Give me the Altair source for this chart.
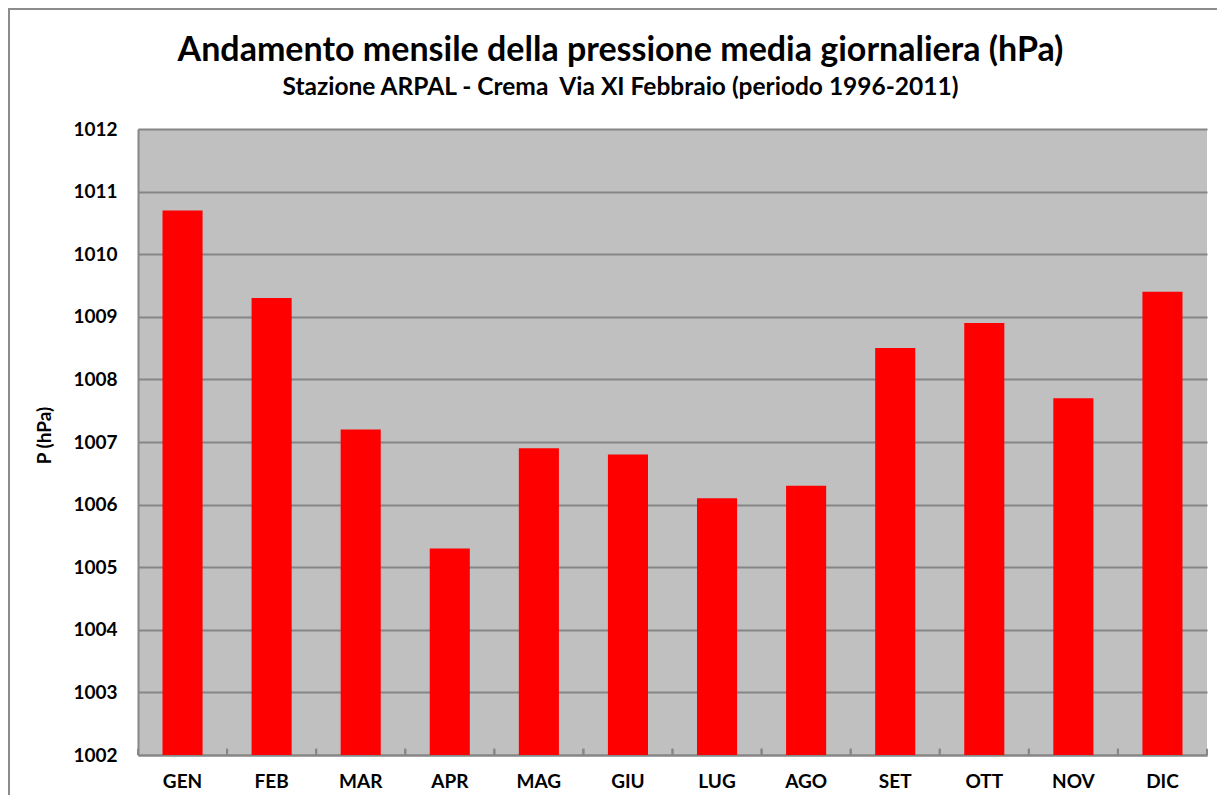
import altair as alt
import pandas as pd

months = ["GEN", "FEB", "MAR", "APR", "MAG", "GIU", "LUG", "AGO", "SET", "OTT", "NOV", "DIC"]
pressure = [1010.7, 1009.3, 1007.2, 1005.3, 1006.9, 1006.8, 1006.1, 1006.3, 1008.5, 1008.9, 1007.7, 1009.4]
y_ticks = [1002, 1003, 1004, 1005, 1006, 1007, 1008, 1009, 1010, 1011, 1012]

title_text = "Andamento mensile della pressione media giornaliera (hPa)"
subtitle_text = "Stazione ARPAL - Crema \u00a0Via XI Febbraio (periodo 1996-2011)"
y_title = "P (hPa)"

df = pd.DataFrame({"mese": months, "p": pressure})

FONT = "Lato"
W, H = 1069, 626
GRAY = "#868686"

xscale = alt.Scale(domain=months, paddingInner=0, paddingOuter=0)
yscale = alt.Scale(domain=[y_ticks[0], y_ticks[-1]], nice=False, zero=False)

border = alt.Chart(pd.DataFrame({"a": [0]})).mark_rect(
    filled=False, fillOpacity=0, stroke="#8c8c8c", strokeWidth=2, clip=False
).encode(
    x=alt.value(-129), x2=alt.value(1300), y=alt.value(-120), y2=alt.value(900)
)

bars = alt.Chart(df).mark_bar(
    color="#FF0000", width=alt.RelativeBandSize(0.45)
).encode(
    x=alt.X("mese:N", sort=months, scale=xscale,
            axis=alt.Axis(orient="bottom", title=None, labelAngle=0, ticks=False,
                          domain=True, domainColor=GRAY, domainWidth=2,
                          labelFont=FONT, labelFontSize=19, labelFontWeight="bold",
                          labelColor="black", labelPadding=17, grid=False)),
    y=alt.Y("p:Q", scale=yscale,
            axis=alt.Axis(values=y_ticks, format="d", title=y_title, ticks=False,
                          domain=True, domainColor=GRAY, domainWidth=2,
                          grid=True, gridColor=GRAY, gridWidth=2,
                          labelFont=FONT, labelFontSize=19, labelFontWeight="bold",
                          labelColor="black", labelPadding=21,
                          titleFont=FONT, titleFontSize=19, titleFontWeight="bold",
                          titleColor="black", titleAngle=270, titleX=-94, titleY=306,
                          titleAlign="center", titleBaseline="middle")),
    y2=alt.datum(y_ticks[0]),
)

tick_start = alt.Chart(df).mark_rule(color=GRAY, strokeWidth=2).encode(
    x=alt.X("mese:N", sort=months, scale=xscale, bandPosition=0),
    y=alt.datum(y_ticks[0]),
    y2=alt.datum(y_ticks[0] + 0.1),
)
tick_end = alt.Chart(df).mark_rule(color=GRAY, strokeWidth=2).encode(
    x=alt.X("mese:N", sort=months, scale=xscale, bandPosition=1),
    y=alt.datum(y_ticks[0]),
    y2=alt.datum(y_ticks[0] + 0.1),
)

chart = alt.layer(bars, tick_start, tick_end, border).properties(
    width=W, height=H,
    autosize=alt.AutoSizeParams(type="none"),
    padding={"left": 130, "top": 121, "right": 10, "bottom": 40},
    title=alt.TitleParams(
        text=title_text, subtitle=subtitle_text,
        font=FONT, fontSize=34, fontWeight="bold", color="black",
        subtitleFont=FONT, subtitleFontSize=24.5, subtitleFontWeight="bold",
        subtitleColor="black", subtitlePadding=8,
        anchor="middle", frame="group", dx=-52, offset=-91,
    ),
).configure(background="white").configure_view(
    fill="#C0C0C0", stroke=None
)

chart.save("out.html", embed_options={"renderer": "svg", "actions": False})
